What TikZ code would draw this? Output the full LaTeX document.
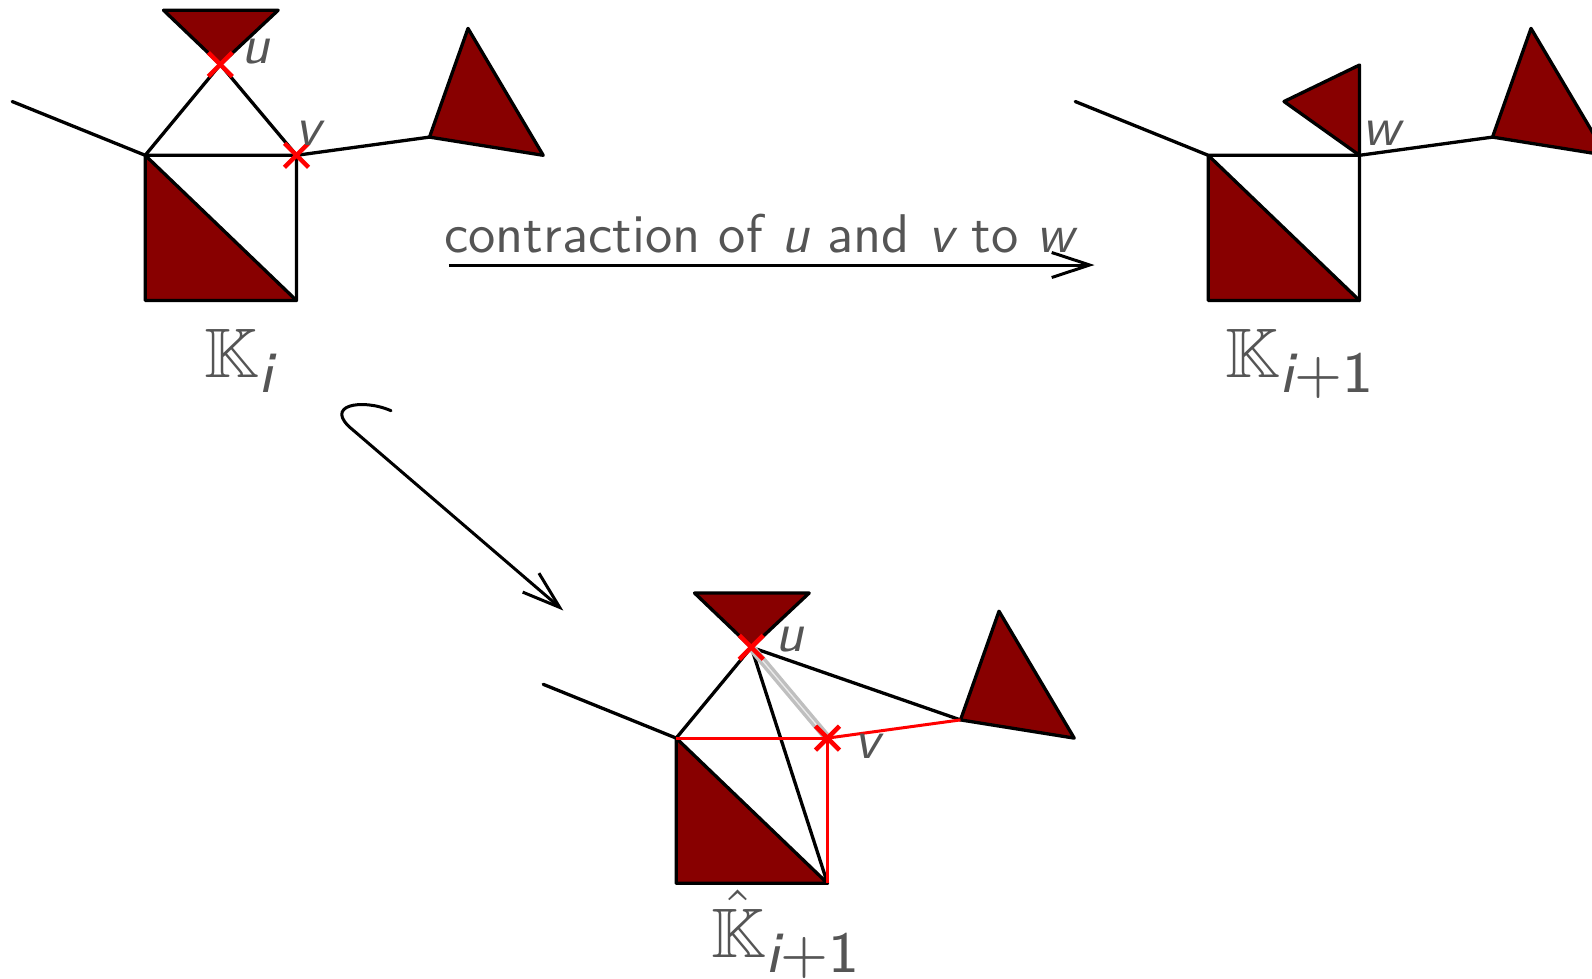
\documentclass[tikz,border=0pt]{standalone}
\usepackage{fontspec}
\usepackage{amsmath}
\usepackage{amssymb}
\usepackage{graphicx}
\usetikzlibrary{arrows.meta}
\definecolor{fillred}{RGB}{136,0,0}
\definecolor{txt}{RGB}{85,85,85}
\newcommand\defcoords[1]{%
  \coordinate (#1L) at (12.2,101.5);
  \coordinate (#1A) at (145.2,155.3);
  \coordinate (#1V) at (296.5,155.3);
  \coordinate (#1BL) at (145.2,300.5);
  \coordinate (#1BR) at (296.5,300.5);
  \coordinate (#1U) at (220.3,64.5);
  \coordinate (#1Ta) at (163.5,10.2);
  \coordinate (#1Tb) at (278.2,10.2);
  \coordinate (#1P) at (429.5,137.1);
  \coordinate (#1Pa) at (468,28.4);
  \coordinate (#1Pb) at (543.2,155.3);
  \coordinate (#1Wa) at (221,101.5);
  \coordinate (#1Wb) at (296.5,65);
}
\newcommand\crossat[1]{%
  \draw[cross] ([shift={(-12,-12)}]#1) -- ([shift={(12,12)}]#1);
  \draw[cross] ([shift={(-12,12)}]#1) -- ([shift={(12,-12)}]#1);
}
\newcommand\subtx[1]{\mbox{\fontsize{8.3}{9}\selectfont\sffamily #1}}
\begin{document}
\begin{tikzpicture}[x=1pt,y=-1pt,
  edge/.style={line width=3.3pt, line cap=round, line join=round},
  face/.style={fill=fillred, draw=black, line width=3.3pt, line join=round},
  rededge/.style={draw=red, line width=3pt},
  greyedge/.style={draw=black!25, line width=3.4pt, double=black!8, double distance=1.3pt},
  cross/.style={draw=red, line width=4.5pt},
  lbl/.style={text=txt, inner sep=0pt},
  arr/.style={line width=3pt, -{Straight Barb[length=38pt,width=25pt]}}]
\useasboundingbox (0,0) rectangle (1592,978);
\clip (0,0) rectangle (1592,978);

% ---- figure K_i
\begin{scope}\defcoords{a}\end{scope}
\draw[face] (aA) -- (aBL) -- (aBR) -- cycle;
\draw[face] (aTa) -- (aTb) -- (aU) -- cycle;
\draw[face] (aP) -- (aPa) -- (aPb) -- cycle;
\draw[edge] (aL) -- (aA) -- (aV) -- (aBR);
\draw[edge] (aA) -- (aU) -- (aV) -- (aP);
\crossat{aU}
\crossat{aV}
\node[lbl] (lu1) at (256,52) {\scalebox{5.5}{\sffamily\itshape u}};
\node[lbl] (lv1) at (308,133) {\scalebox{5.5}{\sffamily\itshape v}};
\node[lbl, anchor=base] (K1) at (240.6,377.7) {\scalebox{7}{$\mathbb{K}_{\subtx{\itshape i}}$}};

% ---- figure K_{i+1}
\begin{scope}[shift={(1063,0)}]\defcoords{b}\end{scope}
\draw[face] (bA) -- (bBL) -- (bBR) -- cycle;
\draw[face] (bWa) -- (bWb) -- (bV) -- cycle;
\draw[face] (bP) -- (bPa) -- (bPb) -- cycle;
\draw[edge] (bL) -- (bA) -- (bV) -- (bBR);
\draw[edge] (bV) -- (bP);
\node[lbl] (lw) at (1381,133) {\scalebox{5.5}{\sffamily\itshape w}};
\node[lbl, anchor=base] (K2) at (1301,377.7) {\scalebox{7}{$\mathbb{K}_{\subtx{{\itshape i}+1}}$}};

% ---- figure hat K_{i+1}
\begin{scope}[shift={(531,582.8)}]\defcoords{c}\end{scope}
\draw[face] (cA) -- (cBL) -- (cBR) -- cycle;
\draw[face] (cTa) -- (cTb) -- (cU) -- cycle;
\draw[face] (cP) -- (cPa) -- (cPb) -- cycle;
\draw[edge] (cL) -- (cA) -- (cU) -- (cP);
\draw[edge] (cU) -- (cBR);
\draw[greyedge] (cU) -- (cV);
\draw[rededge] (cA) -- (cV) -- (cBR);
\draw[rededge] (cV) -- (cP);
\crossat{cU}
\crossat{cV}
\node[lbl] (lu3) at (790,640) {\scalebox{5.5}{\sffamily\itshape u}};
\node[lbl] (lv3) at (867,746) {\scalebox{5.5}{\sffamily\itshape v}};
\node[lbl, anchor=base] (K3) at (787,957) {\scalebox{7}{$\hat{\mathbb{K}}_{\subtx{{\itshape i}+1}}$}};

% ---- arrows
\coordinate (arrS) at (448.8,265);
\coordinate (arrE) at (1094.5,265);
\draw[arr] (arrS) -- (arrE);
\node[lbl, anchor=base] (ctext) at (759,252.8) {\scalebox{5.45}{\sffamily contraction of {\itshape u} and {\itshape v} to {\itshape w}}};

\coordinate (hkS) at (391,410.7);
\coordinate (hkM) at (353,430);
\coordinate (hkE) at (563.3,610.5);
\draw[arr, line cap=round] (hkS) .. controls (362,398) and (322,405) .. (hkM) -- (hkE);
\end{tikzpicture}
\end{document}
